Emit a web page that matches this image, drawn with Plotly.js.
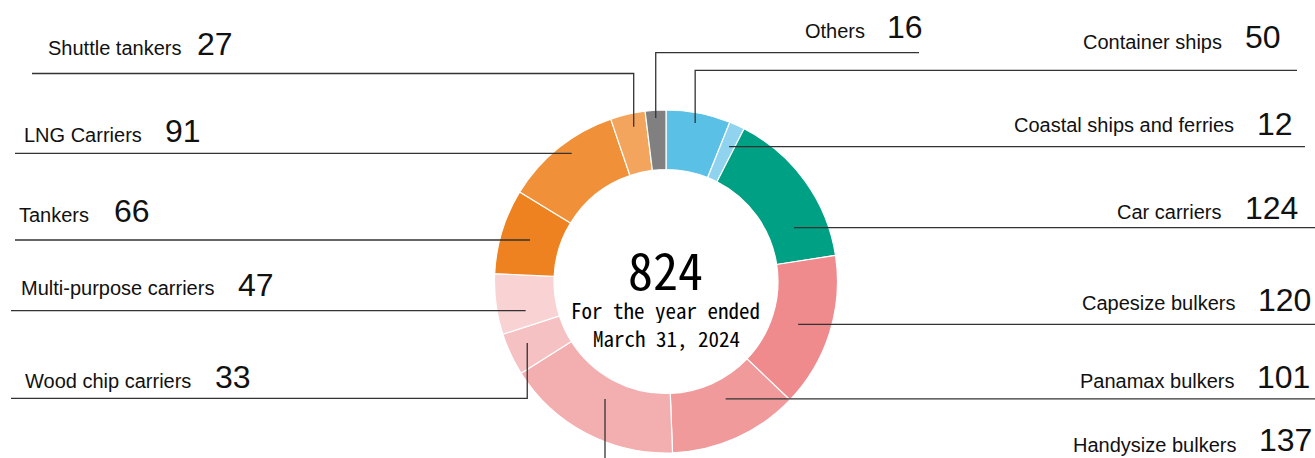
<!DOCTYPE html>
<html><head><meta charset="utf-8">
<script src="https://cdn.plot.ly/plotly-3.0.1.min.js"></script>
<style>html,body{margin:0;padding:0;background:#fff}#chart{width:1315px;height:458px}</style>
</head><body><div id="chart"></div>
<script>
// ---- data ----
const categories = ["Container ships","Coastal ships and ferries","Car carriers","Capesize bulkers","Panamax bulkers","Handysize bulkers","Wood chip carriers","Multi-purpose carriers","Tankers","LNG Carriers","Shuttle tankers","Others"];
const vessels = [50, 12, 124, 120, 101, 137, 33, 47, 66, 91, 27, 16];
const subtitleLines = ["For the year ended", "March 31, 2024"];

// ---- style ----
const sliceColors = ["#5BC0E5","#8FD3EE","#00A084","#EF8A8D","#F09A9B","#F3AFAF","#F5C1C2","#F9D2D3","#EE8220","#F0913A","#F3A55D","#808080"];

// ---- layout (pixels) ----
const W = 1315, H = 458;
const pieDomain = {x: [494.5 / W, 837.5 / W], y: [1 - 453 / H, 1 - 110 / H]};
// per-slice leader/label placement: angle offset (deg), anchor radius fraction, path, label positions
const labelLayout = [
  {dA: -0.5, rF: 0.94, path: [["v", 70.3], ["h", 1297]], name: [1081, 42], num: [1243, 37]},
  {dA: 0.6, rF: 0.868, path: [["h", 1305]], name: [1012, 125], num: [1255, 124]},
  {dA: 13.0, rF: 0.81, path: [["h", 1315]], name: [1115, 212], num: [1243, 208]},
  {dA: 0.48, rF: 0.81, path: [["h", 1315]], name: [1080, 303], num: [1256, 299.5]},
  {dA: -2.68, rF: 0.768, path: [["h", 1315]], name: [1078, 381], num: [1255, 377]},
  {dA: -0.31, rF: 0.772, path: [["v", 460]], name: [1071, 445], num: [1257, 440]},
  {dA: 1.21, rF: 0.885, path: [["v", 398.3], ["h", 11]], name: [23, 381], num: [213, 377]},
  {dA: -4.11, rF: 0.836, path: [["h", 11]], name: [19, 288], num: [236, 284.5]},
  {dA: -0.07, rF: 0.829, path: [["h", 15]], name: [17, 215], num: [112, 210.5]},
  {dA: 2.33, rF: 0.928, path: [["h", 15]], name: [22, 135], num: [163, 131]},
  {dA: 1.1, rF: 0.922, path: [["v", 73.5], ["h", 32]], name: [46, 47.5], num: [195, 43.5]},
  {dA: -0.1, rF: 0.955, path: [["v", 52.7], ["h", 919]], name: [803, 31], num: [885, 27]}
];

const total = vessels.reduce((a, b) => a + b, 0);
const cx = (pieDomain.x[0] + pieDomain.x[1]) / 2 * W;
const cy = H - (pieDomain.y[0] + pieDomain.y[1]) / 2 * H;
const R = Math.min((pieDomain.x[1] - pieDomain.x[0]) * W, (pieDomain.y[1] - pieDomain.y[0]) * H) / 2;

const px = x => x / W, py = y => 1 - y / H;
const labelFont = "'Liberation Sans', Arial, sans-serif";
const centerFont = "'Noto Sans Mono CJK JP', 'Liberation Sans Narrow', sans-serif";

const shapes = [], annotations = [];
let cum = 0;
vessels.forEach((v, i) => {
  const mid = (cum + v / 2) / total * 360;
  cum += v;
  const L = labelLayout[i];
  const a = (mid + L.dA) * Math.PI / 180;
  const r = L.rF * R;
  let x = cx + r * Math.sin(a), y = cy - r * Math.cos(a);
  let d = `M${px(x)},${py(y)}`;
  L.path.forEach(([t, val]) => {
    if (t === "v") y = val; else x = val;
    d += ` L${px(x)},${py(y)}`;
  });
  shapes.push({type: "path", xref: "paper", yref: "paper", path: d, line: {color: "#333", width: 1.3}});
  annotations.push({xref: "paper", yref: "paper", x: px(L.name[0]), y: py(L.name[1]), xanchor: "left", yanchor: "middle",
    text: categories[i], showarrow: false, font: {family: labelFont, size: 20, color: "#111"}});
  annotations.push({xref: "paper", yref: "paper", x: px(L.num[0]), y: py(L.num[1]), xanchor: "left", yanchor: "middle",
    text: String(v), showarrow: false, font: {family: labelFont, size: 32, color: "#111"}});
});

annotations.push({xref: "paper", yref: "paper", x: px(665), y: py(267.5), xanchor: "center", yanchor: "middle",
  height: 52, valign: "middle",
  text: String(total), showarrow: false, font: {family: centerFont, size: 50, color: "#000", weight: 500}});
annotations.push({xref: "paper", yref: "paper", x: px(665.5), y: py(309.5), xanchor: "center", yanchor: "middle",
  height: 26, valign: "middle",
  text: subtitleLines[0], showarrow: false, font: {family: centerFont, size: 21, color: "#000", weight: 500}});
annotations.push({xref: "paper", yref: "paper", x: px(666), y: py(337.5), xanchor: "center", yanchor: "middle",
  height: 26, valign: "middle",
  text: subtitleLines[1], showarrow: false, font: {family: centerFont, size: 21, color: "#000", weight: 500}});

const trace = {
  type: "pie", labels: categories, values: vessels, sort: false, direction: "clockwise", rotation: 0,
  hole: 0.653, domain: pieDomain, textinfo: "none", hoverinfo: "label+value",
  marker: {colors: sliceColors, line: {color: "#ffffff", width: 1.2}}
};

Plotly.newPlot("chart", [trace], {
  width: W, height: H, margin: {l: 0, r: 0, t: 0, b: 0}, showlegend: false,
  paper_bgcolor: "#ffffff", plot_bgcolor: "#ffffff", shapes, annotations
}, {displayModeBar: false, staticPlot: true});
</script></body></html>
